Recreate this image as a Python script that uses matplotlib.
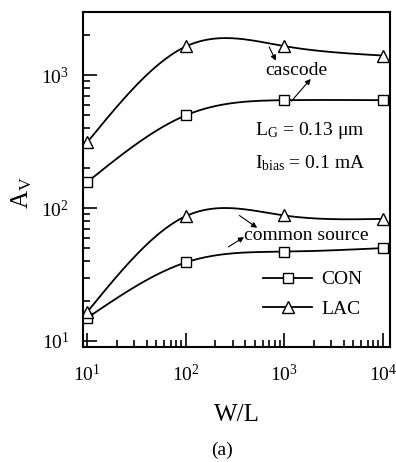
import numpy as np
import matplotlib.pyplot as plt

plt.rcParams['font.family'] = ['Liberation Serif', 'DejaVu Serif']
plt.rcParams['mathtext.fontset'] = 'custom'
plt.rcParams['mathtext.rm'] = 'Liberation Serif'
plt.rcParams['mathtext.it'] = 'Liberation Serif:italic'

# W/L ratios and voltage gain
wl = [10, 100, 1000, 10000]
con_cascode = [157, 500, 650, 650]
lac_cascode = [313, 1650, 1660, 1410]
con_cs = [14.9, 39, 47, 50]
lac_cs = [16.5, 87, 88, 83]


def smooth(x, y, n=300):
    # natural cubic spline in log-log space
    lx, ly = np.log10(x), np.log10(y)
    k = len(lx)
    h = np.diff(lx)
    A = np.zeros((k, k))
    b = np.zeros(k)
    A[0, 0] = A[-1, -1] = 1
    for i in range(1, k - 1):
        A[i, i - 1] = h[i - 1]
        A[i, i] = 2 * (h[i - 1] + h[i])
        A[i, i + 1] = h[i]
        b[i] = 6 * ((ly[i + 1] - ly[i]) / h[i] - (ly[i] - ly[i - 1]) / h[i - 1])
    m = np.linalg.solve(A, b)
    xs = np.linspace(lx[0], lx[-1], n)
    j = np.clip(np.searchsorted(lx, xs) - 1, 0, k - 2)
    t0, t1 = xs - lx[j], lx[j + 1] - xs
    hj = h[j]
    ys = (m[j] * t1**3 + m[j + 1] * t0**3) / (6 * hj) \
        + (ly[j] / hj - m[j] * hj / 6) * t1 + (ly[j + 1] / hj - m[j + 1] * hj / 6) * t0
    return 10**xs, 10**ys


fig = plt.figure(figsize=(3.96, 4.62), dpi=100)
ax = fig.add_axes([0.21, 0.249, 0.775, 0.725])
ax.set_xscale('log')
ax.set_yscale('log')

lw = 1.3
for y, mk, ms, lab in [(con_cascode, 's', 7, None), (lac_cascode, '^', 9, None),
                       (con_cs, 's', 7, 'CON'), (lac_cs, '^', 9, 'LAC')]:
    xs, ys = smooth(wl, y)
    ax.plot(xs, ys, color='black', lw=lw)
    ax.plot(wl, y, ls='none', marker=mk, ms=ms, mfc='white', mec='black', mew=1.0)
    if lab:
        ax.plot([], [], color='black', lw=lw, marker=mk, ms=ms, mfc='white',
                mec='black', mew=1.0, label=lab)

ax.set_xlim(9.1, 11800)
ax.set_ylim(9.0, 3000)

ax.tick_params(which='both', direction='in', top=False, right=False, labelsize=14, width=1.2)
ax.tick_params(which='major', length=10)
ax.tick_params(which='minor', length=5)
ax.tick_params(axis='x', pad=12)
ax.tick_params(axis='y', pad=10)
for s in ax.spines.values():
    s.set_linewidth(1.5)

ax.set_xlabel('W/L', fontsize=18, labelpad=14)
ax.set_ylabel(r'$\mathrm{A_V}$', fontsize=18)
ax.yaxis.set_label_coords(-0.16, 0.46)
fig.text(0.56, 0.006, '(a)', fontsize=14, ha='center', va='bottom')

arrow = dict(arrowstyle='-|>', color='black', lw=0.8, mutation_scale=8,
             shrinkA=0, shrinkB=0)
ax.text(1315, 1097, 'cascode', fontsize=14, ha='center', va='center')
ax.annotate('', xy=(820, 1290), xytext=(700, 1640), arrowprops=arrow)
ax.annotate('', xy=(1850, 940), xytext=(1180, 640), arrowprops=arrow)
ax.text(1660, 62.7, 'common source', fontsize=14, ha='center', va='center')
ax.annotate('', xy=(530, 71), xytext=(350, 88), arrowprops=arrow)
ax.annotate('', xy=(390, 60.5), xytext=(270, 51), arrowprops=arrow)

ax.text(505, 387, r'$\mathrm{L_G}$ = 0.13 μm', fontsize=14, va='center')
ax.text(505, 219, r'$\mathrm{I_{bias}}$ = 0.1 mA', fontsize=14, va='center')

ax.legend(loc='lower left', bbox_to_anchor=(0.53, 0.035), frameon=False, fontsize=14,
          handlelength=2.5, handletextpad=0.5, labelspacing=0.6)

fig.savefig('out.png', dpi=100)
